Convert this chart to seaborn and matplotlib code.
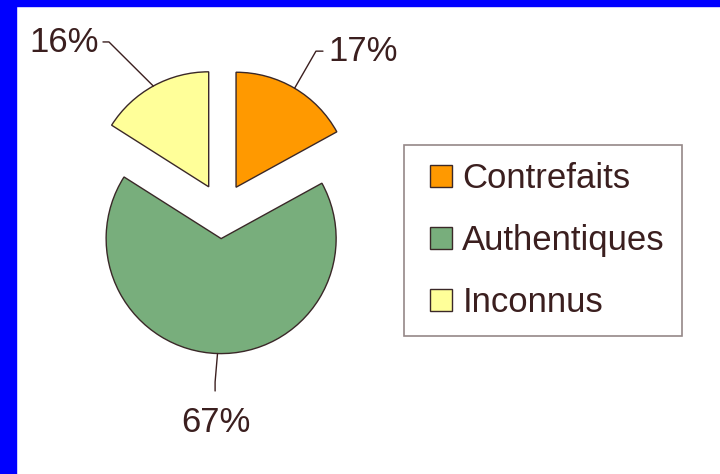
import numpy as np
import seaborn as sns
import matplotlib
matplotlib.use('Agg')
import matplotlib.pyplot as plt
from matplotlib.patches import Patch, Rectangle
from matplotlib.legend_handler import HandlerPatch

# données du graphique
categories = ['Contrefaits', 'Authentiques', 'Inconnus']
values = [17, 67, 16]
colors = ['#FF9900', '#78AE7C', '#FFFF99']

sns.set_theme(style='white')
plt.rcParams['font.family'] = ['Liberation Sans', 'DejaVu Sans']
text_color = '#3B1F1F'
edge_color = '#3A2828'

fig = plt.figure(figsize=(7.2, 4.74), dpi=100)
fig.patch.set_facecolor('white')
ax = fig.add_axes([0, 0, 1, 1])

explode = 0.24
wedges, _ = ax.pie(values, colors=colors, startangle=90, counterclock=False,
                   explode=[explode] * len(values), radius=1,
                   wedgeprops=dict(edgecolor=edge_color, linewidth=1.0))

# 115 px par unité, centre du camembert à (222, 211) px
scale = 115.0
cx, cy = 222.0, 211.0
ax.set_aspect('auto')
ax.set_xlim((0 - cx) / scale, (720 - cx) / scale)
ax.set_ylim((cy - 474) / scale, (cy - 0) / scale)
ax.axis('off')

# étiquettes : position du texte, coude, fin de trait (en unités du graphique)
label_pos = [(1.23, 1.387), (-0.057, -1.84), (-1.37, 1.465)]
elbows = [[(0.817, 1.39), (0.878, 1.39)],
          [(-0.06, -1.487), (-0.06, -1.565)],
          [(-0.983, 1.47), (-1.035, 1.47)]]
for w, v, pos, elb in zip(wedges, values, label_pos, elbows):
    mid = np.deg2rad((w.theta1 + w.theta2) / 2)
    r = 1 + explode
    anchor = (r * np.cos(mid), r * np.sin(mid))
    xs = [anchor[0]] + [p[0] for p in elb]
    ys = [anchor[1]] + [p[1] for p in elb]
    ax.plot(xs, ys, color=text_color, lw=1.0)
    ax.text(pos[0], pos[1], f'{v}%', ha='center', va='center',
            fontsize=25, color=text_color)


# petit carré calé à droite de la zone de la poignée
def square_patch(legend, orig_handle, xdescent, ydescent, width, height, fontsize):
    return Rectangle((-xdescent + width - height, -ydescent), height, height)


handles = [Patch(facecolor=c, edgecolor=edge_color, linewidth=1.0) for c in colors]
leg = fig.legend(handles, categories, loc='upper left',
                 bbox_to_anchor=(404 / 720, 1 - 145 / 474), borderaxespad=0,
                 fontsize=25, frameon=True, fancybox=False,
                 handlelength=0.9, handleheight=0.6, handletextpad=0.29,
                 labelspacing=0.84, borderpad=0.49,
                 handler_map={Patch: HandlerPatch(patch_func=square_patch)})
leg.get_frame().set_edgecolor('#7A6A6A')
leg.get_frame().set_linewidth(1.2)
for t in leg.get_texts():
    t.set_color(text_color)

# bordure bleue
fig.add_artist(Rectangle((0, 0), 16 / 720, 1, transform=fig.transFigure,
                         color='#0000FF', zorder=10))
fig.add_artist(Rectangle((0, 1 - 6 / 474), 1, 6 / 474, transform=fig.transFigure,
                         color='#0000FF', zorder=10))

fig.savefig('out.png', dpi=100)
